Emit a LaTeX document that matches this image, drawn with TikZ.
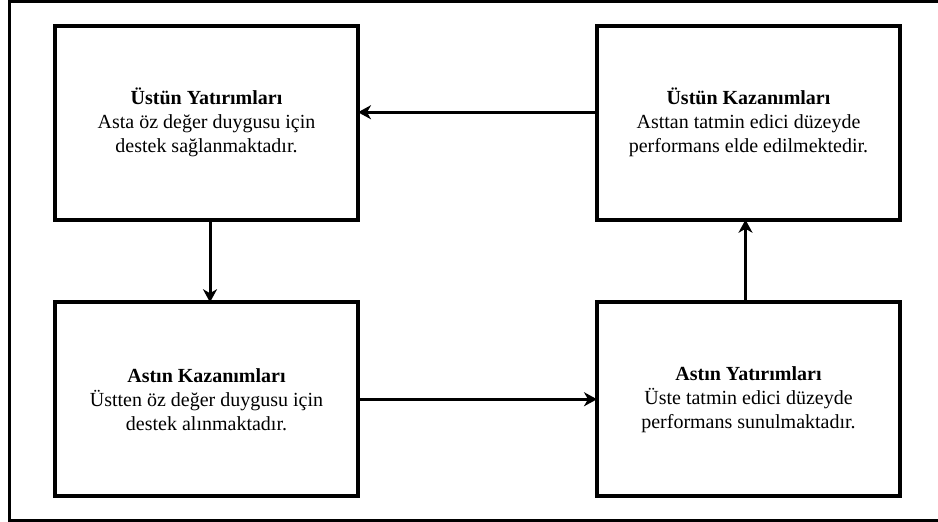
\documentclass[tikz,border=0pt]{standalone}
\usepackage{fontspec}
\setmainfont{Liberation Serif}
\usetikzlibrary{positioning,arrows.meta}

\tikzset{
  kutu/.style={draw, line width=4pt, minimum width=303pt, minimum height=194pt,
    outer sep=0pt, align=center, font=\fontsize{20pt}{24pt}\selectfont},
  ok/.style={-{Stealth[length=13pt,width=14pt,inset=4pt]}, line width=3pt},
}

\begin{document}
\begin{tikzpicture}[x=1pt, y=1pt, node distance=82.5pt and 239pt]
  \useasboundingbox (0,0) rectangle (938,522);
  % Outer frame
  \draw[line width=3pt] (9.5,1.5) rectangle (945,520.5);

  % Define nodes
  \node[kutu] (ustY) at (206.5,399.25) {\textbf{Üstün Yatırımları}\\Asta öz değer duygusu için\\destek sağlanmaktadır.};
  \node[kutu, right=of ustY] (ustK) {\textbf{Üstün Kazanımları}\\Asttan tatmin edici düzeyde\\performans elde edilmektedir.};
  \node[kutu, below=of ustY] (astK) {\textbf{Astın Kazanımları}\\Üstten öz değer duygusu için\\destek alınmaktadır.};
  \node[kutu, right=of astK] (astY) {\textbf{Astın Yatırımları}\\Üste tatmin edici düzeyde\\performans sunulmaktadır.};

  % Connect the nodes
  \draw[ok] ([xshift=3.5pt]ustY.south) -- ([xshift=3.5pt]astK.north);
  \draw[ok] (astK) -- (astY);
  \draw[ok] ([xshift=-3pt]astY.north) -- ([xshift=-3pt]ustK.south);
  \draw[ok] ([yshift=10.5pt]ustK.west) -- ([yshift=10.5pt]ustY.east);
\end{tikzpicture}
\end{document}
